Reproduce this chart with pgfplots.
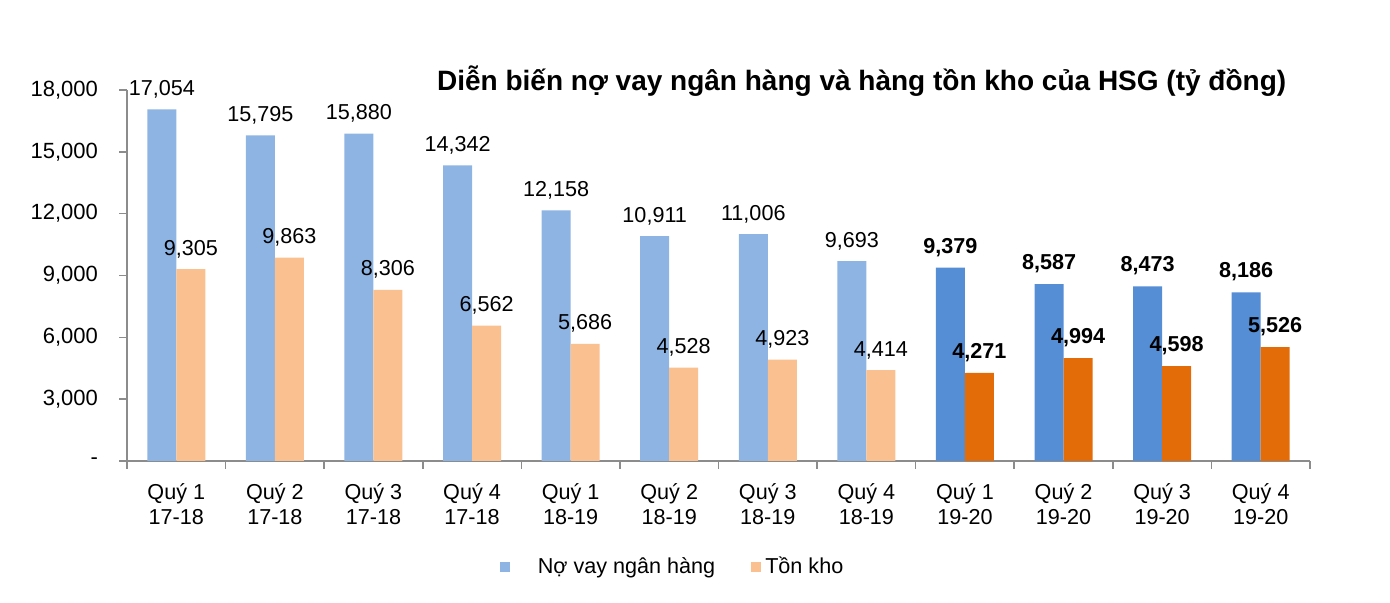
\documentclass[border=0pt]{standalone}
\usepackage{fontspec}
\setmainfont{Liberation Sans}
\usepackage{pgfplots}
\pgfplotsset{compat=1.18}

\definecolor{lblue}{HTML}{8EB4E3}
\definecolor{lorange}{HTML}{FAC08F}
\definecolor{dblue}{HTML}{558ED5}
\definecolor{dorange}{HTML}{E36C09}
\definecolor{axgray}{HTML}{8C8C8C}

\pgfplotstableread{
x no tk
0 17054 9305
1 15795 9863
2 15880 8306
3 14342 6562
4 12158 5686
5 10911 4528
6 11006 4923
7 9693 4414
}\oldq

\pgfplotstableread{
x no tk
8 9379 4271
9 8587 4994
10 8473 4598
11 8186 5526
}\newq

\begin{document}
\begin{tikzpicture}
\path[use as bounding box] (0,0) rectangle (695pt,301.5pt);
\begin{axis}[
    at={(63.5pt,71pt)}, anchor=south west,
    scale only axis,
    width=591.5pt, height=185.5pt,
    ybar, bar width=14.5pt,
    xmin=-0.5, xmax=11.5,
    ymin=0, ymax=18000,
    scaled y ticks=false,
    axis x line*=bottom, axis y line*=left,
    axis line style={axgray, line width=0.8pt},
    xtick={0,...,11},
    xticklabels={{Quý 1\\17-18},{Quý 2\\17-18},{Quý 3\\17-18},{Quý 4\\17-18},
                 {Quý 1\\18-19},{Quý 2\\18-19},{Quý 3\\18-19},{Quý 4\\18-19},
                 {Quý 1\\19-20},{Quý 2\\19-20},{Quý 3\\19-20},{Quý 4\\19-20}},
    x tick label style={align=center, font=\fontsize{10.8}{12.5}\selectfont, yshift=-4pt},
    major x tick style={draw=none},
    minor xtick={-0.5,0.5,...,11.5},
    minor tick length=4pt,
    minor x tick style={axgray, line width=0.8pt},
    ytick={0,3000,...,18000},
    yticklabels={-,{3,000},{6,000},{9,000},{12,000},{15,000},{18,000}},
    y tick label style={font=\fontsize{11}{13}\selectfont, xshift=-7pt},
    major y tick style={axgray, line width=0.8pt},
    major tick length=4pt,
    tick align=outside,
    /pgf/number format/.cd, 1000 sep={,}, assume math mode=true, /pgfplots/.cd,
    nodes near coords,
    every node near coord/.append style={font=\fontsize{10.8}{13}\selectfont, black, yshift=2pt},
    title={\bfseries Diễn biến nợ vay ngân hàng và hàng tồn kho của HSG (tỷ đồng)},
    title style={at={(0.621,1)}, anchor=base, font=\fontsize{14}{16}\selectfont, yshift=-6.5pt},
    legend style={at={(0.462,-0.286)}, anchor=center, draw=none,
        font=\fontsize{10.8}{13}\selectfont, legend columns=2,
        /tikz/every even column/.append style={column sep=16pt}},
    legend image code/.code={\fill[#1] (0pt,-2.5pt) rectangle (5pt,2.5pt);},
]
\addplot[fill=lblue, draw=none, bar shift=-7.25pt] table[x=x,y=no] {\oldq};
\addlegendentry{\hspace{12pt}Nợ vay ngân hàng}
\addplot[fill=lorange, draw=none, bar shift=7.25pt] table[x=x,y=tk] {\oldq};
\addlegendentry{Tồn kho}
\addplot[fill=dblue, draw=none, bar shift=-7.25pt, forget plot,
    every node near coord/.append style={font=\fontsize{10.8}{13}\selectfont\bfseries}] table[x=x,y=no] {\newq};
\addplot[fill=dorange, draw=none, bar shift=7.25pt, forget plot,
    every node near coord/.append style={font=\fontsize{10.8}{13}\selectfont\bfseries}] table[x=x,y=tk] {\newq};
\end{axis}
\end{tikzpicture}
\end{document}
